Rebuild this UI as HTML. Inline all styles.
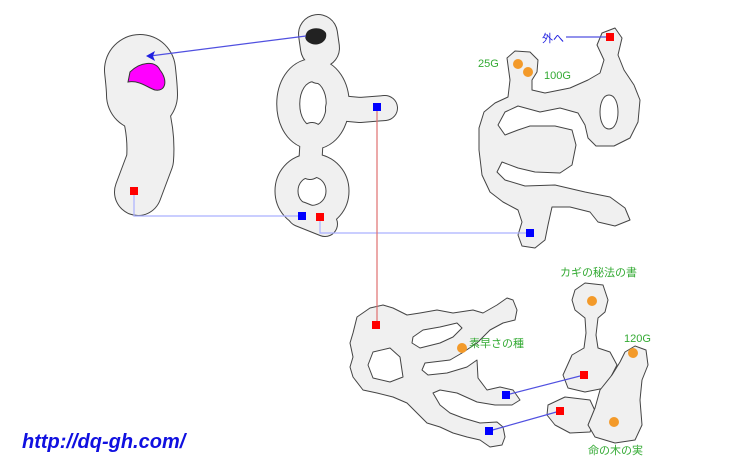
<!DOCTYPE html>
<html><head><meta charset="utf-8"><style>
html,body{margin:0;padding:0;background:#fff;width:740px;height:462px;overflow:hidden}
svg text{font-family:"Liberation Sans","Noto Sans CJK JP",sans-serif}
</style></head><body>
<svg width="740" height="462" viewBox="0 0 740 462" xmlns="http://www.w3.org/2000/svg">
<g fill="none" stroke-linecap="round" stroke-linejoin="round">
<g stroke="#444">
 <path stroke-width="72" d="M140,70 Q142,88 142,95"/>
 <path stroke-width="48" d="M145,110 Q152,135 150,160 L138,192"/>
 <path stroke-width="40" d="M318,34 L320,48"/>
 <path stroke-width="24" d="M318,55 L318,72"/>
 <path stroke-width="24" d="M313,70 C280,72 280,136 313,138 C346,136 346,72 313,70 Z"/>
 <path stroke-width="26" d="M338,108 L360,110 L385,108"/>
 <path stroke-width="24" d="M312,134 L310,168"/>
 <path stroke-width="24" d="M312,165 C278,167 278,215 312,217 C346,215 346,167 312,165 Z"/>
 <path stroke-width="26" d="M300,214 L325,224"/>
</g>
<g stroke="#f0f0f0">
 <path stroke-width="70" d="M140,70 Q142,88 142,95"/>
 <path stroke-width="46" d="M145,110 Q152,135 150,160 L138,192"/>
 <path stroke-width="38" d="M318,34 L320,48"/>
 <path stroke-width="22" d="M318,55 L318,72"/>
 <path stroke-width="22" d="M313,70 C280,72 280,136 313,138 C346,136 346,72 313,70 Z"/>
 <path stroke-width="24" d="M338,108 L360,110 L385,108"/>
 <path stroke-width="22" d="M312,134 L310,168"/>
 <path stroke-width="22" d="M312,165 C278,167 278,215 312,217 C346,215 346,167 312,165 Z"/>
 <path stroke-width="24" d="M300,214 L325,224"/>
</g>
</g>
<g fill="#f0f0f0" stroke="#444" stroke-linejoin="round" fill-rule="evenodd">
<path d="M507,58 L515,51 L530,52 L538,60 L537,72 L532,80 L532,90 L545,93 L570,88 L588,80 L600,73 L604,60 L597,45 L602,33 L615,28 L622,38 L618,55 L624,70 L634,85 L640,100 L638,122 L630,138 L614,146 L596,146 L588,138 L585,125 L578,113 L560,108 L540,112 L518,106 L505,112 L498,125 L505,135 L518,130 L530,126 L555,126 L572,130 L576,145 L572,165 L560,173 L535,172 L518,168 L502,162 L497,172 L505,180 L525,186 L555,185 L585,192 L610,197 L625,208 L630,220 L615,226 L598,222 L590,212 L570,207 L552,207 L548,225 L545,240 L535,248 L522,246 L518,235 L522,222 L518,210 L503,202 L490,192 L482,175 L479,150 L479,128 L484,112 L495,103 L508,97 L510,80 Z M609,95 C621,95 621,129 609,129 C597,129 597,95 609,95 Z"/>
<path d="M357,317 L370,308 L383,305 L393,308 L407,315 L420,313 L437,310 L453,313 L473,310 L483,313 L497,305 L507,298 L513,300 L517,310 L515,320 L503,323 L490,330 L477,343 L462,353 L450,360 L425,363 L422,370 L428,375 L447,373 L467,367 L477,360 L478,378 L487,390 L500,387 L513,390 L520,400 L512,405 L495,405 L477,402 L457,393 L440,390 L433,393 L440,405 L450,413 L463,418 L480,423 L497,422 L503,427 L505,437 L502,445 L490,447 L480,440 L467,437 L453,433 L440,427 L427,423 L417,413 L407,403 L393,397 L377,393 L363,390 L353,377 L350,367 L353,357 L350,343 L353,333 Z M373,352 L390,348 L400,357 L403,377 L390,382 L373,378 L368,365 Z M413,337 L423,330 L440,327 L457,323 L462,328 L453,337 L440,343 L420,348 L412,343 Z"/>
<path d="M575,290 L585,283 L603,285 L608,300 L605,312 L598,318 L596,335 L598,348 L610,352 L617,365 L605,388 L585,392 L568,388 L563,375 L572,355 L584,348 L586,333 L585,318 L575,310 L572,300 Z"/>
<path d="M548,405 L565,397 L590,400 L597,415 L590,432 L570,433 L555,425 L547,415 Z"/>
<path d="M625,352 L635,346 L646,350 L648,365 L642,380 L640,400 L642,425 L635,440 L615,443 L595,437 L588,425 L595,408 L600,390 L612,375 L620,362 Z"/>
</g>
<path d="M130,72 C140,62 155,60 160,70 C168,80 166,92 155,90 C148,88 140,80 128,82 Z" fill="#ff00ff" stroke="#333"/>
<path d="M306,34 C308,27 322,26 326,33 C328,42 318,46 312,44 C306,42 304,38 306,34 Z" fill="#222"/>
<g fill="none" stroke-width="1.2">
 <path d="M134,191 V216 H302" stroke="#aab0ff"/>
 <path d="M320,217 V233 H530" stroke="#aab0ff"/>
 <path d="M377,107 V325" stroke="#e07070"/>
 <path d="M306,36 L150,56" stroke="#5050e0"/>
 <path d="M566,37 H610" stroke="#5050e0"/>
 <path d="M506,395 L584,375 M489,431 L560,411" stroke="#5050e0"/>
</g>
<path d="M146,56 L155,51 L153,56 L155,61 Z" fill="#2020e0"/>
<g fill="#f00"><rect x="130" y="187" width="8" height="8"/><rect x="316" y="213" width="8" height="8"/><rect x="606" y="33" width="8" height="8"/><rect x="372" y="321" width="8" height="8"/><rect x="580" y="371" width="8" height="8"/><rect x="556" y="407" width="8" height="8"/></g>
<g fill="#00f"><rect x="298" y="212" width="8" height="8"/><rect x="373" y="103" width="8" height="8"/><rect x="526" y="229" width="8" height="8"/><rect x="502" y="391" width="8" height="8"/><rect x="485" y="427" width="8" height="8"/></g>
<g fill="#f39a2a"><circle cx="518" cy="64" r="5"/><circle cx="528" cy="72" r="5"/><circle cx="592" cy="301" r="5"/><circle cx="462" cy="348" r="5"/><circle cx="633" cy="353" r="5"/><circle cx="614" cy="422" r="5"/></g>
<g font-size="11" fill="#33aa33">
 <text x="478" y="67">25G</text><text x="544" y="79">100G</text>
 <text x="560" y="276">カギの秘法の書</text><text x="624" y="342">120G</text>
 <text x="469" y="347">素早さの種</text><text x="588" y="454">命の木の実</text>
</g>
<text x="542" y="42" font-size="11" fill="#2020e0">外へ</text>
<text x="22" y="448" font-size="20" font-weight="bold" font-style="italic" fill="#1010e0">http://dq-gh.com/</text>
</svg>
</body></html>
